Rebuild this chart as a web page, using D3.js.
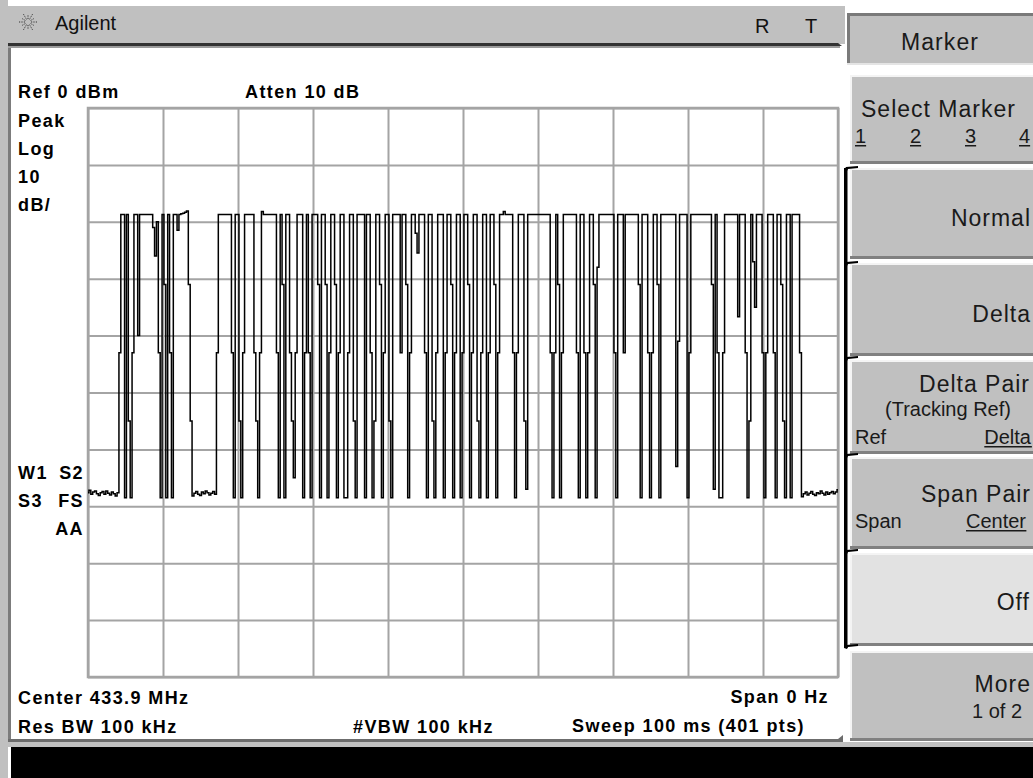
<!DOCTYPE html>
<html><head><meta charset="utf-8">
<script src="https://cdn.jsdelivr.net/npm/d3@7"></script>
<style>body{margin:0;background:#fff;overflow:hidden}svg{display:block}</style>
</head><body>
<svg id="c" width="1033" height="778"></svg>
<script>
// ---------------- DATA ----------------
// Zero-span trace, 401 points over a 100 ms sweep, dBm
const traceDbm = [
-67.6,-67.2,-67.9,-67.5,-67.3,-67.8,-68.1,-67.6,-67.4,-67.9,
-67.3,-67.7,-68.0,-67.5,-67.8,-68.2,-67.6,-43,-18.7,-18.7,
-68.5,-18.7,-55,-68.5,-43,-18.7,-18.7,-40,-18.7,-18.7,
-18.7,-18.7,-18.7,-18.7,-18.7,-21,-26,-20,-43,-68.5,
-18.7,-31,-68.5,-18.7,-43,-68.5,-18.7,-18.7,-21.5,-18.7,
-18.6,-18.5,-18.3,-18.1,-31,-55,-68.2,-67.7,-67.4,-67.9,
-68.1,-67.5,-67.8,-67.3,-67.6,-68.0,-67.7,-67.4,-67.9,-43,
-18.7,-18.7,-18.7,-18.7,-18.7,-18.7,-18.7,-43,-68.5,-18.7,
-18.7,-55,-68.5,-43,-18.7,-18.7,-18.7,-18.7,-18.7,-43,
-55,-68.5,-43,-18.2,-18.7,-18.7,-18.7,-18.7,-18.7,-18.7,
-18.7,-43,-68.5,-18.7,-31,-68.5,-18.7,-18.7,-43,-55,
-65,-43,-18.7,-18.7,-18.7,-68.5,-43,-18.7,-43,-68.5,
-18.7,-18.7,-18.7,-31,-68.5,-18.7,-18.7,-31,-68.5,-43,
-18.7,-18.7,-31,-68.5,-43,-18.7,-18.7,-68.5,-68.5,-43,
-18.7,-18.7,-55,-68.5,-18.7,-18.7,-18.7,-18.7,-68.5,-18.7,
-18.7,-43,-68.5,-55,-18.7,-18.7,-31,-68.5,-43,-18.7,
-18.7,-55,-68.5,-18.7,-18.7,-18.7,-18.7,-43,-18.7,-18.7,
-31,-68.5,-43,-18.7,-18.7,-22,-25.5,-18.7,-18.7,-18.7,
-43,-68.5,-18.7,-18.7,-55,-68.5,-43,-18.7,-18.7,-18.7,
-68.5,-43,-18.7,-18.7,-31,-68.5,-43,-18.7,-18.7,-68.5,
-43,-18.7,-18.7,-31,-68.5,-43,-18.7,-18.7,-55,-68.5,
-43,-18.7,-18.7,-68.5,-43,-18.7,-18.7,-31,-68.5,-43,
-18.7,-18.7,-18.2,-18.7,-18.7,-18.7,-18.7,-43,-68.5,-43,
-18.7,-18.7,-18.7,-55,-67,-18.7,-18.7,-18.7,-18.7,-18.7,
-18.7,-18.7,-18.7,-18.7,-18.7,-18.7,-18.7,-43,-68.5,-43,
-18.7,-31,-68.5,-43,-18.7,-18.7,-18.7,-18.7,-18.7,-18.7,
-18.7,-43,-68.5,-18.7,-18.7,-43,-68.5,-43,-18.7,-18.7,
-31,-68.5,-28,-18.7,-18.7,-18.7,-18.7,-18.7,-18.7,-18.7,
-18.7,-43,-68.5,-18.7,-18.7,-18.7,-43,-18.7,-18.7,-18.7,
-18.7,-18.7,-18.7,-18.7,-31,-68.5,-18.7,-18.7,-18.7,-43,
-68.5,-43,-18.7,-18.7,-31,-68.5,-18.7,-18.7,-18.7,-18.7,
-18.7,-18.7,-18.7,-18.7,-63,-41,-18.7,-18.7,-18.7,-18.7,
-68.5,-43,-18.7,-18.7,-18.7,-18.7,-18.7,-18.7,-18.7,-18.7,
-18.7,-18.7,-18.7,-31,-67,-18.7,-43,-68.5,-68.5,-43,
-18.7,-18.7,-18.7,-18.7,-18.7,-18.7,-18.7,-36.7,-18.7,-18.7,
-18.7,-43,-68.5,-55,-18.7,-27,-35,-18.7,-18.7,-18.7,
-43,-68.5,-43,-18.7,-18.7,-18.7,-43,-68.5,-18.7,-18.7,
-31,-55,-68.5,-18.7,-18.7,-68.5,-18.7,-18.7,-18.7,-18.7,
-43,-68.3,-67.8,-67.5,-68.0,-67.7,-67.4,-67.9,-68.1,-67.6,
-67.8,-67.3,-67.7,-68.0,-67.5,-67.9,-67.6,-67.4,-67.8,-67.5,
-67.1
];
const sweepMs = 100;          // Sweep 100 ms
const refLevelDbm = 0;        // Ref 0 dBm
const dbPerDiv = 10;          // 10 dB/
const xGridTicks = [0,10,20,30,40,50,60,70,80,90,100];   // ms
const yGridTicks = [0,-10,-20,-30,-40,-50,-60,-70,-80,-90,-100]; // dBm

const titleTexts = ["Agilent", "R", "T"];
const headerLabels = ["Ref 0 dBm", "Atten 10 dB"];
const sideLabels = ["Peak", "Log", "10", "dB/"];
const statusLabels = [["W1", "S2"], ["S3", "FS"], ["", "AA"]];
const footerLeft = ["Center 433.9 MHz", "Res BW 100 kHz"];
const footerMid = ["#VBW 100 kHz"];
const footerRight = ["Span 0 Hz", "Sweep 100 ms (401 pts)"];
const menuTitle = "Marker";
const softkeys = [
  {main: "Select Marker", sub: ["1","2","3","4"]},
  {main: "Normal"},
  {main: "Delta"},
  {main: "Delta Pair", note: "(Tracking Ref)", left: "Ref", right: "Delta"},
  {main: "Span Pair", left: "Span", right: "Center"},
  {main: "Off", light: true},
  {main: "More", note: "1 of 2"}
];

// ---------------- DRAWING ----------------
const W = 1033, H = 778;
const FONT = "'Liberation Sans', Arial, Helvetica, sans-serif";
const svg = d3.select("#c");
svg.append("rect").attr("width", W).attr("height", H).attr("fill", "#fff");

// window frame
svg.append("rect").attr("x",0).attr("y",0).attr("width",8).attr("height",H).attr("fill","#c0c0c0");
svg.append("rect").attr("x",8).attr("y",46).attr("width",3).attr("height",696).attr("fill","#7c7c7c");
svg.append("rect").attr("x",0).attr("y",6).attr("width",845).attr("height",38).attr("fill","#c0c0c0");
svg.append("path").attr("d","M8,43 L838,43 L842,46 L8,46 Z").attr("fill","#333");
svg.append("rect").attr("x",8).attr("y",46).attr("width",832).attr("height",2).attr("fill","#9c9c9c");
// bottom edge + black message bar
svg.append("path").attr("d","M8,739 L838,739 L843,735 L843,742 L8,742 Z").attr("fill","#6c6c6c");
svg.append("rect").attr("x",0).attr("y",742).attr("width",W).attr("height",5).attr("fill","#c0c0c0");
svg.append("rect").attr("x",11).attr("y",747).attr("width",W-11).attr("height",31).attr("fill","#000");

// logo
const logo = svg.append("g").attr("transform","translate(28,22)");
d3.range(12).forEach(i => {
  const a = i * Math.PI / 6;
  logo.append("line")
    .attr("x1", Math.cos(a)*3).attr("y1", Math.sin(a)*3)
    .attr("x2", Math.cos(a)*(i%2?7:9.5)).attr("y2", Math.sin(a)*(i%2?7:9.5))
    .attr("stroke","#333").attr("stroke-width",1).attr("stroke-dasharray","1.2,1.2");
});
svg.append("text").attr("x",55).attr("y",30).text(titleTexts[0])
  .attr("font-family",FONT).attr("font-size",20).attr("fill","#111");
svg.append("text").attr("x",755).attr("y",33).text(titleTexts[1])
  .attr("font-family",FONT).attr("font-size",20).attr("fill","#111");
svg.append("text").attr("x",805).attr("y",33).text(titleTexts[2])
  .attr("font-family",FONT).attr("font-size",20).attr("fill","#111");

// ---------------- graticule ----------------
const plot = {x0: 88, x1: 838, y0: 108, y1: 677};
const x = d3.scaleLinear().domain([0, sweepMs]).range([plot.x0, plot.x1]);
const y = d3.scaleLinear().domain([refLevelDbm - dbPerDiv*10, refLevelDbm]).range([plot.y1, plot.y0]);
const gridColor = "#a4a4a4";

const gx = svg.append("g").attr("transform", `translate(0,${plot.y1})`)
  .call(d3.axisBottom(x).tickValues(xGridTicks).tickSize(-(plot.y1-plot.y0)).tickFormat(""));
const gy = svg.append("g").attr("transform", `translate(${plot.x0},0)`)
  .call(d3.axisLeft(y).tickValues(yGridTicks).tickSize(-(plot.x1-plot.x0)).tickFormat(""));
[gx, gy].forEach(g => {
  g.select(".domain").remove();
  g.selectAll(".tick line").attr("stroke", gridColor).attr("stroke-width", 2);
});
svg.append("rect").attr("x",plot.x0).attr("y",plot.y0)
  .attr("width",plot.x1-plot.x0).attr("height",plot.y1-plot.y0)
  .attr("fill","none").attr("stroke",gridColor).attr("stroke-width",2.5);

// ---------------- trace ----------------
const nPts = traceDbm.length;
const line = d3.line()
  .x((d,i) => x(i * sweepMs / (nPts - 1)))
  .y(d => y(d))
  .curve(d3.curveStep);
svg.append("path").datum(traceDbm).attr("d", line)
  .attr("fill","none").attr("stroke","#000").attr("stroke-width",1.5)
  .attr("stroke-linejoin","miter");

// ---------------- annotation text ----------------
function label(txt, xx, yy, anchor) {
  return svg.append("text").attr("x",xx).attr("y",yy).text(txt)
    .attr("font-family",FONT).attr("font-size",18).attr("font-weight","bold")
    .attr("letter-spacing","1.4px").attr("fill","#000")
    .attr("text-anchor", anchor || "start");
}
label(headerLabels[0], 18, 98);
label(headerLabels[1], 245, 98);
sideLabels.forEach((t,i) => label(t, 18, 127 + i*28));
statusLabels.forEach((pair,i) => {
  if (pair[0]) label(pair[0], 18, 479 + i*28);
  label(pair[1], 84, 479 + i*28, "end");
});
footerLeft.forEach((t,i) => label(t, 18, 704 + i*29));
label(footerMid[0], 353, 733);
label(footerRight[0], 829, 703, "end");
label(footerRight[1], 805, 732, "end");

// ---------------- softkey panel ----------------
const keyG = svg.append("g");
const KX = 850, KW = 200;
// title box (sunken)
keyG.append("rect").attr("x",847).attr("y",13).attr("width",KW).attr("height",52).attr("fill","#c0c0c0");
keyG.append("rect").attr("x",847).attr("y",13).attr("width",KW).attr("height",3).attr("fill","#7a7a7a");
keyG.append("rect").attr("x",847).attr("y",13).attr("width",3).attr("height",52).attr("fill","#7a7a7a");
keyG.append("rect").attr("x",847).attr("y",63).attr("width",KW).attr("height",2).attr("fill","#e4e4e4");
keyG.append("text").attr("x",940).attr("y",50).text(menuTitle).attr("text-anchor","middle")
  .attr("font-family",FONT).attr("font-size",23).attr("letter-spacing","1.1px").attr("fill","#1a1a1a");

const keyBounds = [[75,164],[168,259],[263,356],[360,454],[457,549],[553,646],[651,741]];
softkeys.forEach((k,i) => {
  const [a,b] = keyBounds[i];
  keyG.append("rect").attr("x",KX).attr("y",a).attr("width",KW).attr("height",b-a)
    .attr("fill", k.light ? "#e2e2e2" : "#c0c0c0");
  keyG.append("rect").attr("x",KX).attr("y",a).attr("width",KW).attr("height",2).attr("fill","#f4f4f4");
  keyG.append("rect").attr("x",KX).attr("y",a).attr("width",2).attr("height",b-a).attr("fill","#f4f4f4");
  keyG.append("rect").attr("x",KX).attr("y",b-3).attr("width",KW).attr("height",3).attr("fill","#808080");
});

function kt(txt, xx, yy, size, anchor, underline) {
  const t = keyG.append("text").attr("x",xx).attr("y",yy).text(txt)
    .attr("font-family",FONT).attr("font-size",size).attr("fill","#1a1a1a")
    .attr("letter-spacing", size > 21 ? "1px" : "0px")
    .attr("text-anchor", anchor || "start");
  if (underline) {
    const bb = t.node().getBBox();
    keyG.append("rect").attr("x",bb.x).attr("y",yy+2).attr("width",bb.width).attr("height",1.5).attr("fill","#1a1a1a");
  }
  return t;
}
// Select Marker
kt(softkeys[0].main, 861, 117, 23);
[855, 910, 965, 1019].forEach((xx,i) => kt(softkeys[0].sub[i], xx, 143, 20, "start", true));
kt(softkeys[1].main, 1031, 226, 23, "end");
kt(softkeys[2].main, 1031, 322, 23, "end");
kt(softkeys[3].main, 1030, 392, 23, "end");
kt(softkeys[3].note, 885, 416, 20);
kt(softkeys[3].left, 855, 444, 20);
kt(softkeys[3].right, 1031, 444, 20, "end", true);
kt(softkeys[4].main, 1031, 502, 23, "end");
kt(softkeys[4].left, 855, 528, 20);
kt(softkeys[4].right, 966, 528, 20, "start", true);
kt(softkeys[5].main, 1030, 610, 23, "end");
kt(softkeys[6].main, 1031, 692, 23, "end");
kt(softkeys[6].note, 972, 718, 20);

// bracket joining the key group
keyG.append("rect").attr("x",844).attr("y",168).attr("width",3.5).attr("height",480).attr("fill","#000");
[168, 263, 358, 455, 551, 646].forEach(yy => {
  keyG.append("path").attr("d",`M844,${yy+2} L846,${yy-1} L858,${yy-2} L858,${yy} L848,${yy+1} L847,${yy+3} Z`).attr("fill","#000");
});
</script>
</body></html>
